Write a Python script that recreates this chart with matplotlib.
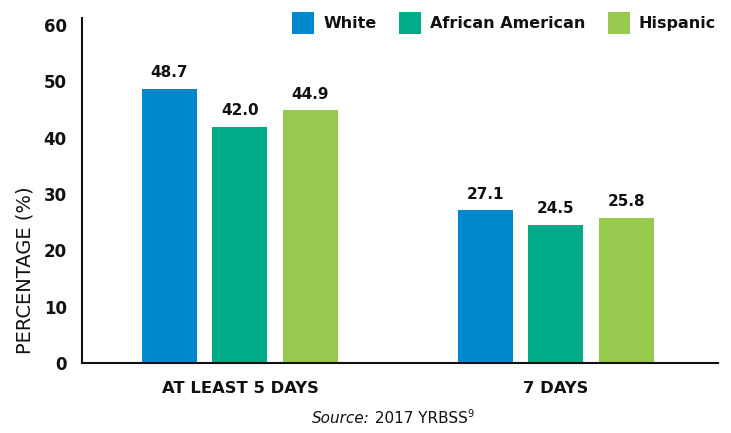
import numpy as np
import matplotlib.pyplot as plt

plt.rcParams['font.family'] = ['DejaVu Sans']

categories = ['AT LEAST 5 DAYS', '7 DAYS']
groups = ['White', 'African American', 'Hispanic']
white = [48.7, 27.1]
african_american = [42.0, 24.5]
hispanic = [44.9, 25.8]
colors = ['#0088cf', '#00ab88', '#97c94f']
ink = '#111111'

fig = plt.figure(figsize=(7.31, 4.33), dpi=100)
ax = fig.add_axes([0.1122, 0.1617, 0.870, 0.797])

x = np.arange(len(categories))
width = 0.174
step = 0.223
for i, (vals, name) in enumerate(zip([white, african_american, hispanic], groups)):
    pos = x + (i - 1) * step
    ax.bar(pos, vals, width, color=colors[i], label=name, zorder=2)
    for p, v in zip(pos, vals):
        ax.text(p, v + 2.07, f'{v:.1f}', ha='center', va='baseline',
                fontsize=11, fontweight='bold', color=ink)

ax.set_xlim(-0.5, 1.513)
ax.set_ylim(0, 61.3)
ax.set_yticks(range(0, 61, 10))
ax.set_xticks(x)
ax.set_xticklabels(categories)
ax.tick_params(axis='both', length=0, colors=ink)
ax.tick_params(axis='y', pad=11, labelsize=12)
ax.tick_params(axis='x', pad=13, labelsize=11.75)
for lab in ax.get_xticklabels() + ax.get_yticklabels():
    lab.set_fontweight('bold')
for s in ['top', 'right']:
    ax.spines[s].set_visible(False)
for s in ['left', 'bottom']:
    ax.spines[s].set_linewidth(1.5)
    ax.spines[s].set_color(ink)

ax.set_ylabel('PERCENTAGE (%)', fontsize=14, color=ink)
ax.yaxis.set_label_coords(-0.074, 0.27)

leg = ax.legend(loc='upper right', bbox_to_anchor=(0.997, 1.017), ncol=3,
                frameon=False, fontsize=11.5, handlelength=1.375,
                handleheight=1.738, handletextpad=0.56, columnspacing=1.42,
                borderpad=0, borderaxespad=0)
for t in leg.get_texts():
    t.set_fontweight('bold')
    t.set_color(ink)

# source line: italic "Source:", plain text, raised footnote mark
t1 = fig.text(0.4268, 0.023, 'Source:', style='italic', fontsize=11,
              ha='left', va='baseline', color=ink)
t2 = ax.annotate(' 2017 YRBSS', xy=(1, 0), xycoords=t1, va='bottom',
                 fontsize=11, color=ink, annotation_clip=False)
ax.annotate('9', xy=(1, 0.45), xycoords=t2, va='bottom', fontsize=7,
            color=ink, annotation_clip=False)

fig.savefig('out.png', dpi=100)
